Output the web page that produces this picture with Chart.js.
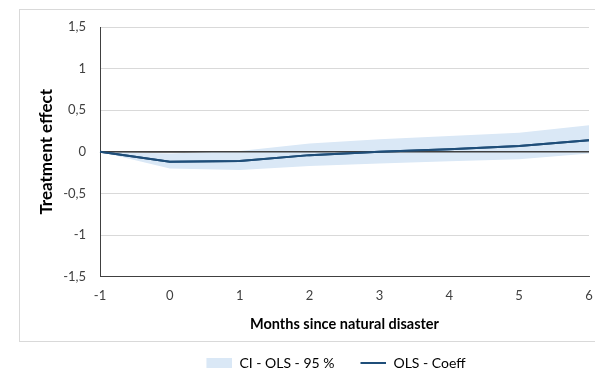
<!DOCTYPE html>
<html>
<head>
<meta charset="utf-8">
<script src="https://cdn.jsdelivr.net/npm/chart.js@4"></script>
<style>
  body { margin: 0; background: #fff; }
  #wrap { position: relative; width: 595px; height: 380px; overflow: hidden; }
  #frame { position: absolute; left: 19px; top: 9px; width: 620px; height: 331px; border: 1px solid #d9d9d9; }
  canvas { position: absolute; left: 0; top: 0; }
</style>
</head>
<body>
<div id="wrap">
  <div id="frame"></div>
  <canvas id="chart" width="595" height="380"></canvas>
</div>
<script>
// months relative to the disaster
const months = [-1, 0, 1, 2, 3, 4, 5, 6];
const coeff   = [0, -0.12, -0.11, -0.04, 0.0, 0.03, 0.07, 0.14];
const ciLower = [0, -0.20, -0.22, -0.17, -0.14, -0.115, -0.09, -0.02];
const ciUpper = [0, -0.02, 0.01, 0.10, 0.15, 0.19, 0.23, 0.32];
const yTicks = [-1.5, -1, -0.5, 0, 0.5, 1, 1.5];

const bandColor = 'rgb(218, 232, 246)';
const lineColor = 'rgb(31, 78, 121)';

const pts = arr => months.map((m, i) => ({ x: m, y: arr[i] }));

// legend symbols: 26px wide mark, empty margin on the left gives the gap between items
const ICON_W = 40;
function legendIcon(kind, color) {
    const c = document.createElement('canvas');
    c.width = ICON_W;
    c.height = 10;
    const g = c.getContext('2d');
    g.fillStyle = color;
    if (kind === 'rect') g.fillRect(ICON_W - 26, 0, 26, 10);
    else g.fillRect(ICON_W - 26, 4, 26, 2);
    return c;
}

// zero axis line drawn on top of the band, like in excel
const zeroLine = {
    id: 'zeroLine',
    afterLayout(chart) {
        // excel centres the legend a bit right of the canvas middle
        chart.legend.left += 29;
    },
    afterDatasetsDraw(chart) {
        const { ctx, chartArea, scales } = chart;
        const y = scales.y.getPixelForValue(0);
        ctx.save();
        ctx.strokeStyle = '#404040';
        ctx.lineWidth = 1.5;
        ctx.beginPath();
        ctx.moveTo(chartArea.left, y);
        ctx.lineTo(chartArea.right, y);
        ctx.stroke();
        ctx.restore();
        // coefficient line back on top
        chart.getDatasetMeta(2).controller.draw();
    }
};

const ctx = document.getElementById('chart').getContext('2d');
Chart.defaults.font.family = 'Lato, "Open Sans", sans-serif';
Chart.defaults.color = '#404040';

new Chart(ctx, {
    type: 'line',
    data: {
        datasets: [
            {
                label: 'ci-low',
                data: pts(ciLower),
                borderWidth: 0,
                pointRadius: 0,
                fill: false,
                order: 3
            },
            {
                label: 'CI - OLS - 95 %',
                data: pts(ciUpper),
                borderWidth: 0,
                borderColor: bandColor,
                backgroundColor: bandColor,
                pointRadius: 0,
                fill: '-1',
                order: 2
            },
            {
                label: 'OLS - Coeff',
                data: pts(coeff),
                borderColor: lineColor,
                backgroundColor: lineColor,
                borderWidth: 2,
                pointRadius: 0,
                fill: false,
                tension: 0,
                order: 1
            }
        ]
    },
    options: {
        responsive: false,
        animation: false,
        layout: {
            padding: { left: 40, right: 6, top: 27, bottom: 0 }
        },
        scales: {
            x: {
                type: 'linear',
                min: -1,
                max: 6,
                afterBuildTicks: s => { s.ticks = months.map(v => ({ value: v })); },
                afterFit: s => { s.paddingRight = 4; },
                grid: { display: false, drawTicks: false },
                border: { display: true, color: '#404040', width: 1 },
                ticks: { padding: 13, font: { size: 13, lineHeight: 1 }, color: '#404040' },
                title: {
                    display: true,
                    text: 'Months since natural disaster',
                    font: { size: 14.5, weight: 'bold' },
                    color: '#000',
                    padding: { top: 0, bottom: 11 }
                }
            },
            y: {
                min: -1.5,
                max: 1.5,
                afterBuildTicks: s => { s.ticks = yTicks.map(v => ({ value: v })); },
                afterFit: s => { s.width = 60; },
                grid: {
                    drawTicks: false,
                    color: c => c.tick && c.tick.value === 0 ? '#404040' : '#d9d9d9',
                    lineWidth: c => c.tick && c.tick.value === 0 ? 1.5 : 1
                },
                border: { display: true, color: '#404040', width: 1 },
                ticks: {
                    padding: 14,
                    font: { size: 13 },
                    color: '#404040',
                    callback: v => String(v).replace('.', ',')
                },
                title: {
                    display: true,
                    text: 'Treatment effect',
                    font: { size: 17, weight: 'bold' },
                    color: '#000',
                    padding: { top: -4, bottom: 0 }
                }
            }
        },
        plugins: {
            legend: {
                position: 'bottom',
                labels: {
                    usePointStyle: true,
                    pointStyleWidth: ICON_W,
                    boxHeight: 12,
                    padding: 12,
                    color: '#404040',
                    font: { size: 14 },
                    generateLabels: chart => [
                        { text: 'CI - OLS - 95 %', fillStyle: bandColor, strokeStyle: bandColor, lineWidth: 0, pointStyle: legendIcon('rect', bandColor), datasetIndex: 1 },
                        { text: 'OLS - Coeff', fillStyle: lineColor, strokeStyle: lineColor, lineWidth: 0, pointStyle: legendIcon('line', lineColor), datasetIndex: 2 }
                    ]
                }
            },
            tooltip: { enabled: false }
        }
    },
    plugins: [zeroLine]
});
</script>
</body>
</html>
